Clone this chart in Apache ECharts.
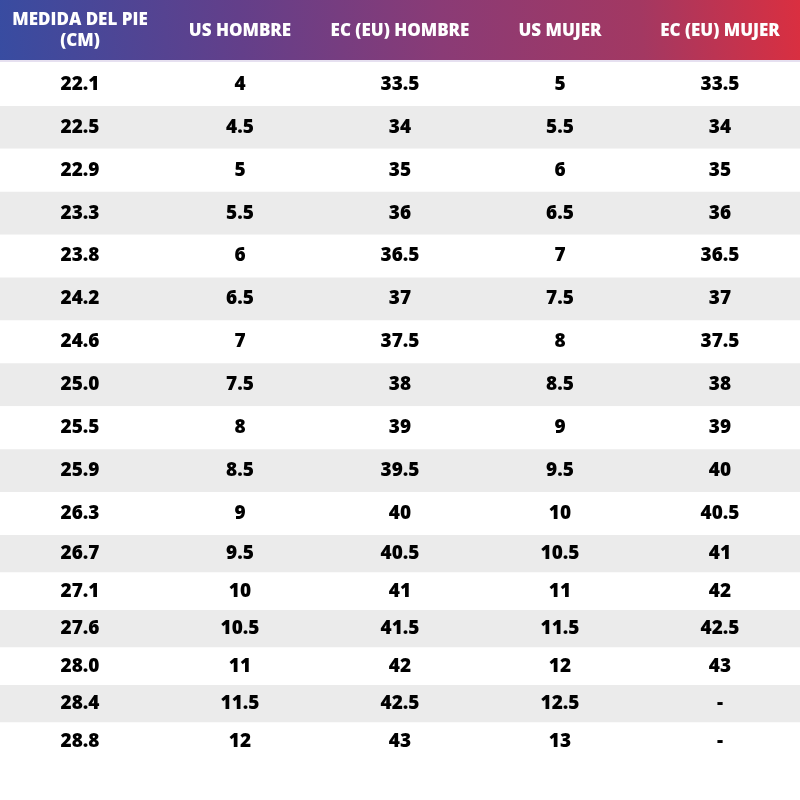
<!DOCTYPE html>
<html>
<head>
<meta charset="utf-8">
<script src="https://cdn.jsdelivr.net/npm/echarts@6/dist/echarts.min.js"></script>
<style>
  html, body { margin: 0; padding: 0; background: #fff; }
  #main { width: 800px; height: 800px; }
</style>
</head>
<body>
<div id="main"></div>
<script>
// column headers
var headers = ['MEDIDA DEL PIE\n(CM)', 'US HOMBRE', 'EC (EU) HOMBRE', 'US MUJER', 'EC (EU) MUJER'];

// table values, one array per column
var footCm  = ['22.1', '22.5', '22.9', '23.3', '23.8', '24.2', '24.6', '25.0', '25.5', '25.9', '26.3', '26.7', '27.1', '27.6', '28.0', '28.4', '28.8'];
var usMen   = ['4', '4.5', '5', '5.5', '6', '6.5', '7', '7.5', '8', '8.5', '9', '9.5', '10', '10.5', '11', '11.5', '12'];
var euMen   = ['33.5', '34', '35', '36', '36.5', '37', '37.5', '38', '39', '39.5', '40', '40.5', '41', '41.5', '42', '42.5', '43'];
var usWomen = ['5', '5.5', '6', '6.5', '7', '7.5', '8', '8.5', '9', '9.5', '10', '10.5', '11', '11.5', '12', '12.5', '13'];
var euWomen = ['33.5', '34', '35', '36', '36.5', '37', '37.5', '38', '39', '40', '40.5', '41', '42', '42.5', '43', '-', '-'];

var columns = [footCm, usMen, euMen, usWomen, euWomen];
var splitAt = 11; // upper block rows are a bit taller than the lower block

var upperRows = [], lowerRows = [];
for (var i = 0; i < footCm.length; i++) {
  if (i < splitAt) upperRows.push('r' + i); else lowerRows.push('r' + i);
}

function cells(from, to) {
  var out = [];
  for (var r = from; r < to; r++) {
    for (var c = 0; c < columns.length; c++) {
      out.push([c, 'r' + r, columns[c][r]]);
    }
  }
  return out;
}

var cellLabel = {
  show: true,
  position: 'inside',
  formatter: function (p) { return p.value[2]; },
  color: '#000',
  opacity: 1,
  fontSize: 19,
  fontWeight: 800,
  fontFamily: 'Open Sans'
};

var myChart = echarts.init(document.getElementById('main'));
var option = {
  backgroundColor: '#fff',
  animation: false,
  graphic: [{
    type: 'rect',
    shape: { x: 0, y: 0, width: 800, height: 60 },
    z: -1,
    style: {
      fill: new echarts.graphic.LinearGradient(0, 1, 1, 0, [
        { offset: 0, color: '#384ca1' },
        { offset: 0.3, color: '#633f8a' },
        { offset: 0.55, color: '#8a3b76' },
        { offset: 0.8, color: '#a33862' },
        { offset: 1, color: '#da2f40' }
      ])
    }
  }],
  grid: [
    { left: 0, right: 0, top: 63, height: 472 },
    { left: 0, right: 0, top: 535, height: 225 }
  ],
  xAxis: [{
    gridIndex: 0,
    type: 'category',
    position: 'top',
    offset: 2,
    data: headers,
    axisLine: { show: true, lineStyle: { color: '#e6e0f0', width: 2 } },
    axisTick: { show: false },
    axisLabel: {
      interval: 0,
      margin: 30,
      verticalAlign: 'middle',
      color: '#fff',
      fontSize: 17,
      fontWeight: 800,
      fontFamily: 'Open Sans',
      lineHeight: 21
    },
    splitLine: { show: false }
  }, {
    gridIndex: 1,
    type: 'category',
    data: headers,
    show: false
  }],
  yAxis: [{
    gridIndex: 0,
    type: 'category',
    inverse: true,
    data: upperRows,
    axisLine: { show: false },
    axisTick: { show: false },
    axisLabel: { show: false },
    splitArea: { show: true, interval: 0, areaStyle: { color: ['#ffffff', '#ebebeb'] } }
  }, {
    gridIndex: 1,
    type: 'category',
    inverse: true,
    data: lowerRows,
    axisLine: { show: false },
    axisTick: { show: false },
    axisLabel: { show: false },
    splitArea: { show: true, interval: 0, areaStyle: { color: ['#ebebeb', '#ffffff'] } }
  }],
  series: [{
    type: 'scatter',
    xAxisIndex: 0,
    yAxisIndex: 0,
    symbolSize: 1,
    itemStyle: { color: 'rgba(0,0,0,0)', opacity: 1 },
    label: cellLabel,
    data: cells(0, splitAt)
  }, {
    type: 'scatter',
    xAxisIndex: 1,
    yAxisIndex: 1,
    symbolSize: 1,
    itemStyle: { color: 'rgba(0,0,0,0)', opacity: 1 },
    label: cellLabel,
    data: cells(splitAt, footCm.length)
  }]
};
myChart.setOption(option);
</script>
</body>
</html>
